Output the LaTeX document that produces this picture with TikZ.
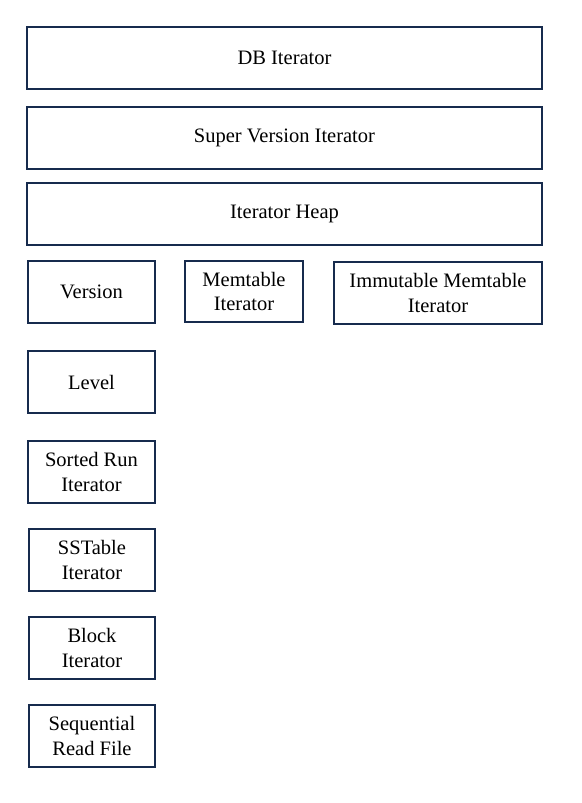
\documentclass[tikz,border=0pt]{standalone}
\usepackage{fontspec}
\setmainfont{Liberation Serif}
\usepackage{tikz}
\usetikzlibrary{positioning}
\definecolor{navy}{RGB}{23,43,77}

\begin{document}
\begin{tikzpicture}[
  x=1pt,y=-1pt,
  font=\fontsize{20.5}{24.6}\selectfont,
  layer/.style={draw=navy,line width=2pt,align=center,inner sep=2pt,
                minimum width=515pt,minimum height=62pt},
  part/.style={draw=navy,line width=2pt,align=center,inner sep=2pt,
               minimum width=127pt,minimum height=62pt}]

\useasboundingbox (0,0) rectangle (581,803);

\node[layer] (db) at (284.5,58)   {DB Iterator};
\node[layer] (sv) at (284.5,138)  {Super Version Iterator};
\node[layer] (heap) at (284.5,214) {Iterator Heap};

\node[part] (ver) at (91.5,292) {Version};
\node[part,minimum width=118pt,minimum height=61pt] (mem) at (244,291.5)
  {Memtable\\ Iterator};
\node[part,minimum width=208pt] (imm) at (438,293)
  {Immutable Memtable\\ Iterator};

\node[part] (lvl) at (91.5,382) {Level};
\node[part] (run) at (91.5,472) {Sorted Run\\ Iterator};
\node[part,minimum width=126pt] (sst) at (92,560) {SSTable\\ Iterator};
\node[part,minimum width=126pt] (blk) at (92,648) {Block\\ Iterator};
\node[part,minimum width=126pt] (file) at (92,736) {Sequential\\ Read File};
\end{tikzpicture}
\end{document}
